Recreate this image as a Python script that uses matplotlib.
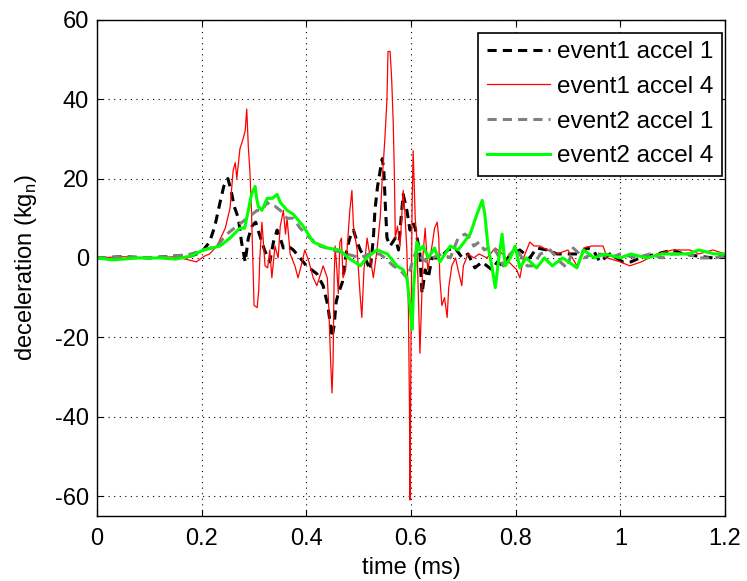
import numpy as np
import matplotlib.pyplot as plt

plt.rcParams['font.family'] = ['Liberation Sans', 'DejaVu Sans']
plt.rcParams['axes.unicode_minus'] = False

# event 1, accelerometer 1 (time in ms, deceleration in k g_n)
t_e1a1 = [0, 0.05, 0.10, 0.15, 0.18, 0.20, 0.215, 0.225, 0.235, 0.242,
          0.25, 0.256, 0.262, 0.27, 0.276, 0.283, 0.289, 0.296, 0.303, 0.31,
          0.32, 0.33, 0.337, 0.344, 0.35, 0.356, 0.365, 0.375, 0.388, 0.40,
          0.41, 0.42, 0.432, 0.441, 0.449, 0.453, 0.457, 0.461, 0.469, 0.477,
          0.483, 0.49, 0.497, 0.503, 0.512, 0.522, 0.528, 0.531, 0.536, 0.541,
          0.545, 0.548, 0.551, 0.554, 0.56, 0.565, 0.57, 0.576, 0.581, 0.585,
          0.592, 0.598, 0.603, 0.608, 0.613, 0.617, 0.621, 0.627, 0.633, 0.64,
          0.655, 0.67, 0.684, 0.698, 0.709, 0.722, 0.736, 0.745, 0.755, 0.765,
          0.776, 0.79, 0.808, 0.827, 0.84, 0.86, 0.879, 0.9, 0.923, 0.936,
          0.948, 0.961, 0.98, 1.005, 1.02, 1.038, 1.07, 1.1, 1.12, 1.146,
          1.177, 1.2]
v_e1a1 = [0, 0.3, 0, 0.5, 0.5, 1.5, 4, 8, 14, 18,
          20, 17, 13, 10, 4, -1, 5, 8, 9, 6,
          2, -1, 4, 7, 5, 2.5, 3, 2, 0, -2,
          -3, -4, -7, -12, -20, -17, -11, -9, -6, 2,
          5, 7, 4, 2, 0, -3, 5, 12, 18, 22,
          25, 22, 13, 5, 3, 4, 5, 2, 10, 16,
          12, 7, 9, 7.5, 4, 1, -9, -3, -5, 0,
          0, 2, 2.5, 0, 1, -2.5, -1, -2, -3, -1,
          -2, 1, 2, 0, 2.5, 2, 1, 1, 1, 2.5,
          2, -1, 1, -1, -1, 0, 1, 2, 1, 0.5,
          0, 0.5]

# event 1, accelerometer 4
t_e1a4 = [0, 0.05, 0.1, 0.15, 0.19, 0.2, 0.206, 0.215, 0.229, 0.245,
          0.254, 0.26, 0.264, 0.267, 0.273, 0.279, 0.283, 0.286, 0.289, 0.292,
          0.295, 0.298, 0.300, 0.306, 0.309, 0.311, 0.315, 0.321, 0.326, 0.33,
          0.334, 0.34, 0.346, 0.35, 0.356, 0.36, 0.363, 0.369, 0.378, 0.384,
          0.39, 0.397, 0.405, 0.413, 0.42, 0.432, 0.44, 0.443, 0.446, 0.449,
          0.451, 0.453, 0.455, 0.458, 0.461, 0.464, 0.467, 0.47, 0.475, 0.483,
          0.487, 0.49, 0.497, 0.503, 0.506, 0.51, 0.516, 0.522, 0.528, 0.535,
          0.541, 0.545, 0.55, 0.554, 0.556, 0.56, 0.563, 0.566, 0.568, 0.57,
          0.574, 0.579, 0.585, 0.588, 0.592, 0.595, 0.597, 0.598, 0.600, 0.602,
          0.604, 0.608, 0.611, 0.617, 0.62, 0.623, 0.627, 0.632, 0.64, 0.645,
          0.65, 0.653, 0.655, 0.659, 0.664, 0.669, 0.672, 0.678, 0.685, 0.69,
          0.697, 0.7, 0.709, 0.72, 0.73, 0.745, 0.761, 0.775, 0.787, 0.802,
          0.808, 0.815, 0.827, 0.835, 0.847, 0.86, 0.879, 0.9, 0.917, 0.93,
          0.945, 0.955, 0.967, 0.975, 1.0, 1.018, 1.04, 1.07, 1.1, 1.133,
          1.15, 1.177, 1.2]
v_e1a4 = [0, 0.3, 0, 0.3, -1, 0, 0.5, 1, 3, 7.5,
          12.5, 22, 24, 20, 27.5, 30, 32, 37.5, 28, 22,
          12, -2, -12, -12.5, -8, 0, 9, -2, -2.5, 2,
          -5, 3, 0, 8, 12, 6, 10, 1, -2, -5,
          -2, 2, -1, -5, -7, -2, -5, -13, -25, -34,
          -26, -5, 3, -2.5, -9, 4, 5, -5, -3, 12,
          17, 8, 2, -10, -15, -3, 5, 0, -5, 2,
          10, 20, 30, 40, 52, 52, 45, 34, 22, 5,
          8, 3, 17, 12, 2, -13, -37, -61, -20, 13,
          27, 10, 5, -24, -12, 1, 7.5, -3, 3, 7.5,
          9, 5, -5, -12, -10, -15, -7.5, -2, 0, -3,
          -7, -2, 1, 0, 1, 0, 2.5, 1, -1, -3,
          -5, 0, 4, 3, 3, 2, 1, 2, -2, 2.5,
          3, 3, 3, 0, -1, -2, -1, 1, 2, 2,
          1, 2, 1]

# event 2, accelerometer 1
t_e2a1 = [0, 0.05, 0.1, 0.15, 0.18, 0.203, 0.229, 0.248, 0.267, 0.287,
          0.306, 0.315, 0.325, 0.332, 0.34, 0.35, 0.363, 0.375, 0.388, 0.407,
          0.426, 0.451, 0.477, 0.503, 0.52, 0.54, 0.55, 0.566, 0.579, 0.592,
          0.598, 0.605, 0.611, 0.62, 0.63, 0.64, 0.66, 0.675, 0.69, 0.703,
          0.713, 0.72, 0.73, 0.74, 0.755, 0.765, 0.776, 0.79, 0.8, 0.822,
          0.833, 0.847, 0.866, 0.885, 0.898, 0.91, 0.93, 0.948, 0.961, 0.98,
          1.0, 1.03, 1.057, 1.08, 1.1, 1.13, 1.15, 1.18, 1.2]
v_e2a1 = [0, 0.3, 0, 0.5, 1, 2, 3, 6, 8, 10,
          12, 12, 14, 13, 13, 12, 10, 10, 7.5, 5,
          3, 2, 1, 0, 1, 1, 0, -2, -3, -5,
          -3, 0, 2, 0, -1, 0, 1, 0, 5, 6,
          5, 3, 4, 2, 3, 1, -2, 1, 2.5, -2,
          -2, 1, 2, -1, -2.5, 2.5, 0, 1, 1, 0,
          1, 0, 1, 0, 1, 1, 0, 0, 0.5]

# event 2, accelerometer 4
t_e2a4 = [0, 0.03, 0.08, 0.12, 0.15, 0.18, 0.203, 0.22, 0.235, 0.254,
          0.273, 0.282, 0.289, 0.295, 0.302, 0.305, 0.308, 0.315, 0.325, 0.335,
          0.344, 0.35, 0.363, 0.375, 0.394, 0.413, 0.44, 0.464, 0.48, 0.492,
          0.503, 0.515, 0.535, 0.555, 0.573, 0.585, 0.592, 0.598, 0.602, 0.605,
          0.608, 0.611, 0.617, 0.623, 0.633, 0.645, 0.655, 0.675, 0.69, 0.713,
          0.726, 0.736, 0.741, 0.747, 0.755, 0.761, 0.766, 0.774, 0.78, 0.79,
          0.799, 0.808, 0.82, 0.84, 0.855, 0.87, 0.89, 0.917, 0.93, 0.95,
          0.97, 1.0, 1.02, 1.05, 1.08, 1.1, 1.13, 1.15, 1.18, 1.2]
v_e2a4 = [0, -0.5, 0, 0, -0.3, 0.5, 2, 2.5, 3, 5,
          7.5, 7.5, 12, 16, 18, 15, 13, 12, 15, 15,
          16, 14, 12, 11, 8, 4, 2.5, 2, 0, -1,
          -2, 0, 2, 1, -2, -3, -5, -12, -18, -7.5,
          -2, 4, 2, 3, 0, 2.5, -1, 3, 2, 6,
          11, 14.5, 11, 3, -2.5, -7.5, -2, 6, -2, 0,
          3, -2.5, 0, -2.5, 0, -2, 0, -2.5, 2, 0,
          1, 0, 1, 0, 1, 1, 1, 2, 1, 1]

labels = ['event1 accel 1', 'event1 accel 4', 'event2 accel 1', 'event2 accel 4']

fig = plt.figure(figsize=(7.47, 5.81), dpi=100)
ax = fig.add_axes([0.130, 0.112, 0.8405, 0.854])

ax.plot(t_e1a1, v_e1a1, color='black', lw=2.2, dashes=(3, 2), label=labels[0])
ax.plot(t_e1a4, v_e1a4, color='red', lw=0.9, label=labels[1])
ax.plot(t_e2a1, v_e2a1, color='#808080', lw=2.2, dashes=(3, 2), label=labels[2])
ax.plot(t_e2a4, v_e2a4, color='#00ff00', lw=2.2, label=labels[3])

ax.set_xlim(0, 1.2)
ax.set_ylim(-65, 60)
ax.set_xticks(np.arange(0, 1.21, 0.2))
ax.set_xticklabels(['0', '0.2', '0.4', '0.6', '0.8', '1', '1.2'])
ax.set_yticks(np.arange(-60, 61, 20))

ax.grid(True, color='black', linestyle=(0, (1, 4)), lw=0.8)
ax.tick_params(direction='in', top=True, right=True, labelsize=17, length=4)
ax.tick_params(axis='x', pad=9)
ax.tick_params(axis='y', pad=6)
for s in ax.spines.values():
    s.set_linewidth(1.0)

ax.set_xlabel('time (ms)', fontsize=17, labelpad=5)
ax.set_ylabel(r'deceleration (kg$_\mathregular{n}$)', fontsize=17, labelpad=11)

leg = ax.legend(loc='upper right', bbox_to_anchor=(0.9952, 0.9738),
                fontsize=17.5, handlelength=2.6,
                fancybox=False, framealpha=1, edgecolor='black',
                borderaxespad=0, borderpad=0.35, labelspacing=0.52,
                handletextpad=0.3)
leg.get_frame().set_linewidth(1.2)

fig.savefig('out.png', dpi=100)
